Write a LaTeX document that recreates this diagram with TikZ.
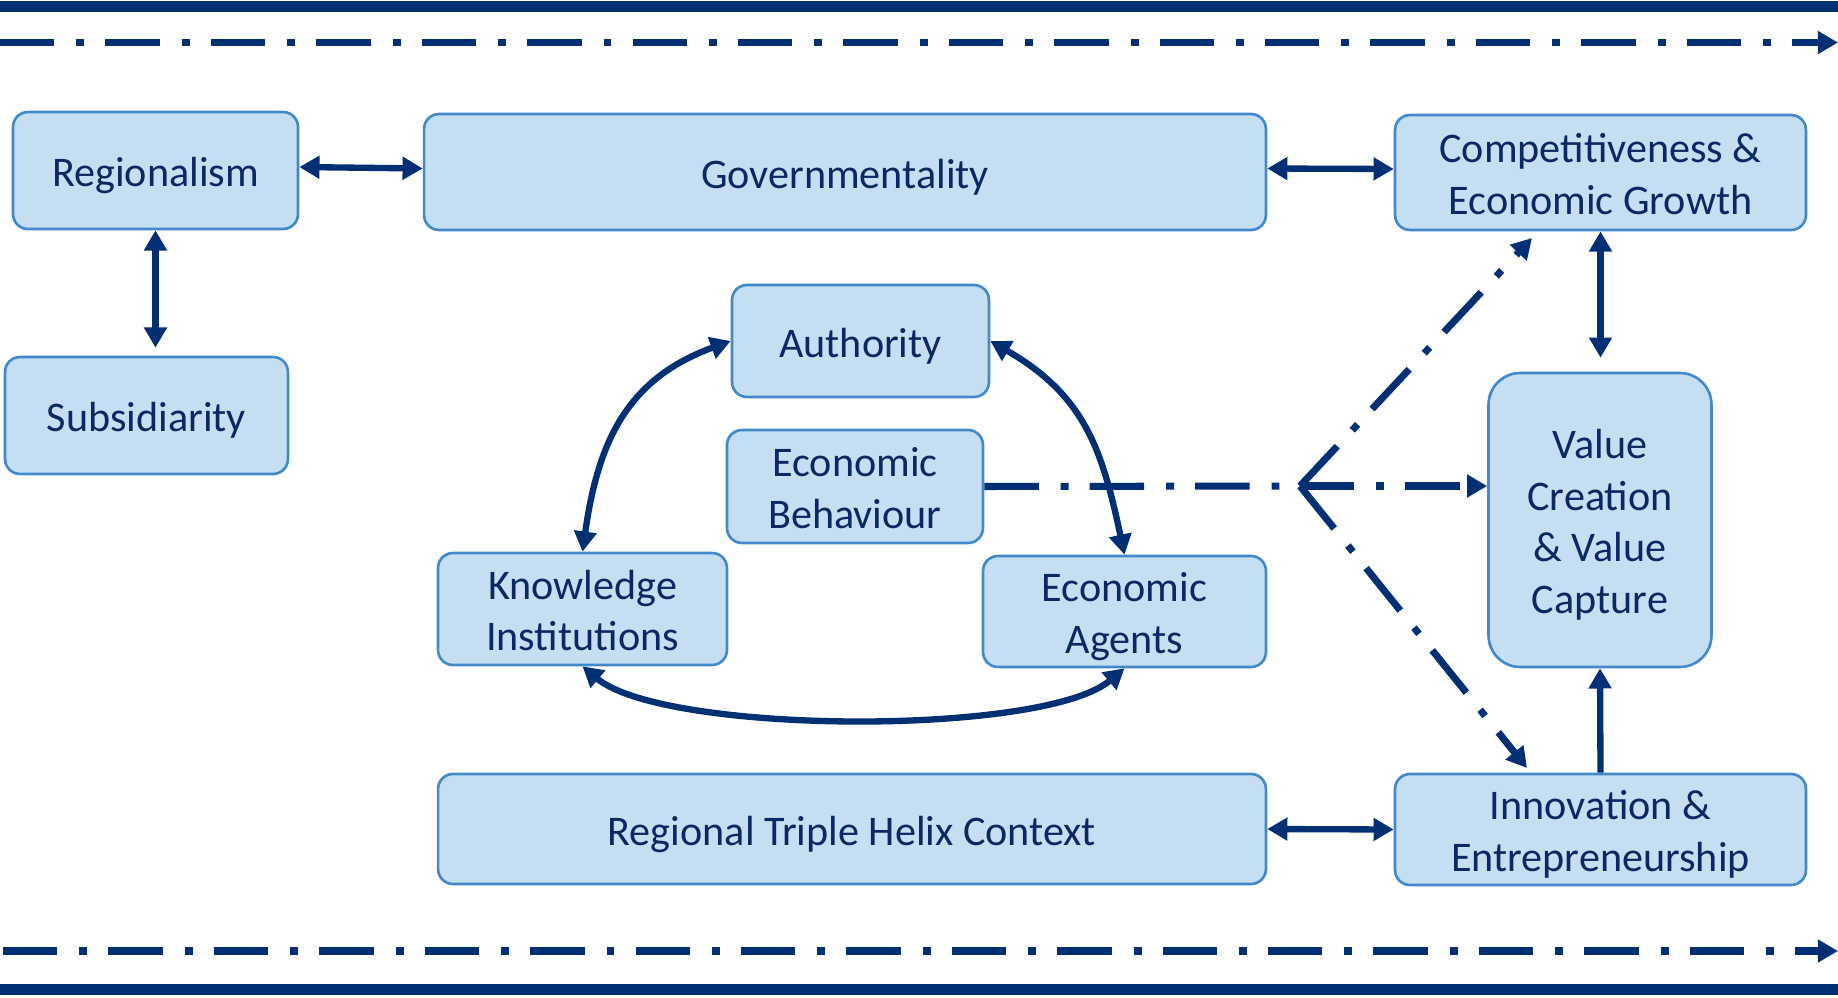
\documentclass[tikz,border=0pt]{standalone}
\usepackage{fontspec}
\setmainfont{Carlito}
\usetikzlibrary{arrows.meta}
\definecolor{boxfill}{RGB}{198,222,241}
\definecolor{boxline}{RGB}{65,137,201}
\definecolor{navy}{RGB}{0,48,115}
\definecolor{textblue}{RGB}{12,40,100}
\tikzset{
  blk/.style={draw=boxline, fill=boxfill, line width=1.5pt, rounded corners=8.5pt,
    text=textblue, align=center, inner sep=0pt,
    font=\fontsize{24}{29.3}\selectfont,
    execute at begin node={\rule{0pt}{\dimexpr 23.8pt+29.3pt*\numexpr#1-1\relax\relax}},
    execute at end node={\rule[-5.5pt]{0pt}{5.5pt}}},
  blk/.default=1,
  dblarr/.style={draw=navy, line width=3.6pt, <->},
  onearr/.style={draw=navy, line width=3.6pt, ->},
  dashdot/.style={draw=navy, line width=4pt,
    dash pattern=on 31pt off 12.5pt on 4.5pt off 12pt},
  band/.style={draw=navy, line width=6.2pt},
}
\begin{document}
\begin{tikzpicture}[x=0.02cm, y=-0.02cm, >={Triangle[length=11.5pt,width=12.5pt]}]
\useasboundingbox (0,0) rectangle (1838,997);
% frame lines
\draw [band] (0,6.5) -- (1838,6.5);
\draw [band] (0,989.5) -- (1838,989.5);
\draw [dashdot, ->] (0,42.5) -- (1838,42.5);
\draw [dashdot, ->] (3,951) -- (1838,951);
% boxes
\node (reg)  [blk, minimum width=5.7cm,  minimum height=2.34cm] at (155.5,170.5) {Regionalism};
\node (gov)  [blk, minimum width=16.84cm, minimum height=2.32cm] at (845,172) {Governmentality};
\node (comp) [blk=2, minimum width=8.22cm, minimum height=2.3cm]  at (1600.5,172.5) {Competitiveness \&\\Economic Growth};
\node (sub)  [blk, minimum width=5.66cm, minimum height=2.34cm] at (146.5,415.5) {Subsidiarity};
\node (auth) [blk, minimum width=5.14cm, minimum height=2.24cm] at (860.5,341) {Authority};
\node (eb)   [blk=2, minimum width=5.12cm, minimum height=2.26cm] at (855,486.5) {Economic\\Behaviour};
\node (ki)   [blk=2, minimum width=5.78cm, minimum height=2.24cm] at (582.5,609) {Knowledge\\Institutions};
\node (ea)   [blk=2, minimum width=5.66cm, minimum height=2.22cm] at (1124.5,611.5) {Economic\\Agents};
\node (vc)   [blk=4, rounded corners=18pt, minimum width=4.46cm, minimum height=5.88cm] at (1600,520) {Value\\Creation\\\& Value\\Capture};
\node (rth)  [blk, minimum width=16.56cm, minimum height=2.2cm] at (852,829) {Regional Triple Helix Context};
\node (inn)  [blk=2, minimum width=8.22cm, minimum height=2.22cm] at (1600.5,829.5) {Innovation \&\\Entrepreneurship};
% dash-dot links
\coordinate (br) at (1300,486);
\coordinate (cgtip) at (1532,238);
\coordinate (inntip) at (1527,768);
\draw [dashdot] (eb.east) -- (br);
\draw [dashdot, ->] (br) -- (vc.west |- br);
\draw [dashdot, ->] (br) -- (cgtip);
\draw [dashdot, ->] (br) -- (inntip);
% straight links
\draw [dblarr] ([yshift=0.07cm]reg.east) -- ([yshift=0.07cm]gov.west);
\draw [dblarr] ([yshift=0.07cm]gov.east) -- ([yshift=0.07cm]comp.west);
\draw [dblarr] (rth.east) -- (inn.west);
\draw [dblarr, shorten >=0.16cm] (reg.south) -- (reg.south |- sub.north);
\draw [dblarr, shorten >=0.28cm] (comp.south) -- (comp.south |- vc.north);
\draw [onearr] (inn.north) -- (vc.south);
% triangle of curves
\draw [dblarr] (auth.west) to[out=200, in=82, looseness=1.1] (ki.north);
\draw [dblarr] (auth.east) to[out=-30, in=102, looseness=1.1] (ea.north);
\draw [dblarr] (ki.south) to[out=-40, in=-140, looseness=0.5] (ea.south);
\end{tikzpicture}
\end{document}
